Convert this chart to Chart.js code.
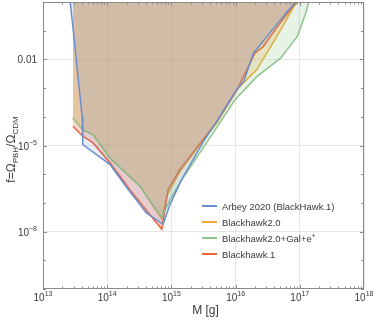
<!DOCTYPE html>
<html>
<head>
<meta charset="utf-8">
<script src="https://cdn.jsdelivr.net/npm/chart.js@4/dist/chart.umd.min.js"></script>
<style>
  html, body { margin: 0; padding: 0; background: #fff; }
</style>
</head>
<body>
<canvas id="c" width="374" height="328"></canvas>
<script>
// values (M in grams, f = Omega_PBH / Omega_CDM)
const names = ['Arbey 2020 (BlackHawk.1)', 'Blackhawk2.0', 'Blackhawk2.0+Gal+e', 'Blackhawk.1'];
const nameSup = ['', '', '+', ''];

const arbeyM = [2.66e13, 4.07e13, 4.17e13, 1.10e14, 2.0e14, 4.07e14, 7.41e14, 9.55e14, 1.45e15, 3.16e15, 5.13e15, 1.0e16, 1.34e16, 1.90e16, 4.95e16, 6.31e16, 8.71e16];
const arbeyF = [1, 1.02e-4, 1.07e-5, 2.2e-6, 3.5e-7, 4.5e-8, 1.8e-8, 8.9e-8, 6.6e-7, 1.4e-5, 7.1e-5, 7.9e-4, 1.7e-3, 1.66e-2, 0.234, 0.457, 1];

const bh2M = [2.92e13, 4.17e13, 6.03e13, 1.10e14, 3.24e14, 7.08e14, 8.51e14, 1.35e15, 2.51e15, 5.13e15, 1.10e16, 2.14e16, 4.37e16, 8.91e16];
const bh2F = [9.1e-5, 3.5e-5, 2.4e-5, 3.7e-6, 3.8e-7, 2.8e-8, 1.8e-7, 1.2e-6, 7.9e-6, 6.3e-5, 1.0e-3, 4.4e-3, 6.2e-2, 1];

const galM = [2.92e13, 4.17e13, 6.03e13, 1.10e14, 3.24e14, 7.08e14, 9.55e14, 1.35e15, 4.47e15, 9.77e15, 2.14e16, 5.01e16, 9.12e16, 1.23e17, 1.38e17];
const galF = [9.1e-5, 3.5e-5, 2.4e-5, 3.7e-6, 3.8e-7, 3.1e-8, 1.3e-7, 5.0e-7, 2.75e-5, 3.9e-4, 2.5e-3, 1.1e-2, 6.2e-2, 0.40, 1];

const bh1M = [2.92e13, 4.17e13, 6.03e13, 1.10e14, 1.58e14, 2.24e14, 4.57e14, 7.08e14, 8.91e14, 1.35e15, 2.34e15, 5.13e15, 1.05e16, 2.0e16, 2.69e16, 4.68e16, 8.51e16, 8.71e16];
const bh1F = [4.7e-5, 2.1e-5, 1.23e-5, 2.5e-6, 8.5e-7, 2.95e-7, 4.0e-8, 1.2e-8, 2.95e-7, 1.45e-6, 7.2e-6, 6.9e-5, 8.7e-4, 1.66e-2, 2.75e-2, 0.158, 0.89, 1];

const xTicks = [1e13, 1e14, 1e15, 1e16, 1e17, 1e18];
const xTickExp = ['13', '14', '15', '16', '17', '18'];
const yTicks = [1e-8, 1e-5, 1e-2];
const yTickBase = ['10', '10', '0.01'];
const yTickExp = ['\u22128', '\u22125', ''];

const lineColors = ['#6a8fcc', '#eeaa33', '#8dc48a', '#ee6038'];
const fillColors = ['rgba(106,143,204,0.15)', 'rgba(238,170,51,0.25)', 'rgba(141,196,138,0.2)', 'rgba(238,96,56,0.25)'];
// lower value is painted on top
const drawOrder = [0, 3, 1, 2];

const pts = (xs, ys) => xs.map((x, i) => ({ x, y: ys[i] }));
const series = [pts(arbeyM, arbeyF), pts(bh2M, bh2F), pts(galM, galF), pts(bh1M, bh1F)];

const FONT = '"Liberation Sans", Arial, sans-serif';
const TXT = '#3a3a3a';

// draws text made of parts, some raised or lowered and smaller
function scriptText(ctx, parts, x, y, align) {
  let w = 0;
  for (const p of parts) { ctx.font = p.size + 'px ' + FONT; w += ctx.measureText(p.t).width; }
  let cx = align === 'center' ? x - w / 2 : align === 'right' ? x - w : x;
  ctx.textAlign = 'left';
  for (const p of parts) {
    ctx.font = p.size + 'px ' + FONT;
    ctx.fillText(p.t, cx, y + (p.dy || 0));
    cx += ctx.measureText(p.t).width;
  }
}

const decor = {
  id: 'decor',
  afterDraw(chart) {
    const { ctx, chartArea: a, scales: { x, y } } = chart;
    ctx.save();
    ctx.strokeStyle = '#8a8a8a';
    ctx.lineWidth = 1;
    ctx.strokeRect(a.left + 0.5, a.top + 0.5, a.right - a.left - 1, a.bottom - a.top - 1);

    // inner tick marks
    ctx.beginPath();
    for (let n = 13; n < 18; n++) {
      for (let k = 1; k <= 9; k++) {
        const px = Math.round(x.getPixelForValue(k * Math.pow(10, n))) + 0.5;
        const len = k === 1 ? 4 : 2.5;
        ctx.moveTo(px, a.bottom); ctx.lineTo(px, a.bottom - len);
        ctx.moveTo(px, a.top); ctx.lineTo(px, a.top + len);
      }
    }
    for (let n = -10; n <= 0; n++) {
      const py = Math.round(y.getPixelForValue(Math.pow(10, n))) + 0.5;
      const len = (n === -8 || n === -5 || n === -2) ? 4 : 3;
      ctx.moveTo(a.left, py); ctx.lineTo(a.left + len, py);
      ctx.moveTo(a.right, py); ctx.lineTo(a.right - len, py);
    }
    ctx.stroke();

    ctx.fillStyle = TXT;
    ctx.textBaseline = 'alphabetic';
    xTicks.forEach((v, i) => {
      const px = x.getPixelForValue(v);
      scriptText(ctx, [{ t: '10', size: 10 }, { t: xTickExp[i], size: 7, dy: -5 }], px, a.bottom + 12, 'center');
    });
    yTicks.forEach((v, i) => {
      const py = y.getPixelForValue(v);
      const parts = [{ t: yTickBase[i], size: 10 }];
      if (yTickExp[i]) parts.push({ t: yTickExp[i], size: 7, dy: -5 });
      scriptText(ctx, parts, a.left - 6, py + 4, 'right');
    });

    // axis titles
    scriptText(ctx, [{ t: 'M [g]', size: 12 }], (a.left + a.right) / 2 + 2, a.bottom + 25, 'center');
    ctx.save();
    ctx.translate(15, (a.top + a.bottom) / 2 + 4);
    ctx.rotate(-Math.PI / 2);
    scriptText(ctx, [
      { t: 'f=\u03a9', size: 12 }, { t: 'PBH', size: 8, dy: 3 },
      { t: '/\u03a9', size: 12 }, { t: 'CDM', size: 8, dy: 3 }
    ], 0, 0, 'center');
    ctx.restore();

    // legend
    names.forEach((nm, i) => {
      const ly = 206 + i * 16;
      ctx.strokeStyle = lineColors[i];
      ctx.lineWidth = 2;
      ctx.beginPath(); ctx.moveTo(202, ly); ctx.lineTo(217, ly); ctx.stroke();
      ctx.fillStyle = TXT;
      const parts = [{ t: nm, size: 9.5 }];
      if (nameSup[i]) parts.push({ t: nameSup[i], size: 6.5, dy: -4 });
      scriptText(ctx, parts, 222, ly + 3.5, 'left');
    });
    ctx.restore();
  }
};

new Chart(document.getElementById('c'), {
  type: 'line',
  data: {
    datasets: series.map((d, i) => ({
      label: names[i],
      data: d,
      order: drawOrder[i],
      borderColor: lineColors[i],
      backgroundColor: fillColors[i],
      borderWidth: 1.5,
      pointRadius: 0,
      tension: 0,
      fill: 'end'
    }))
  },
  options: {
    responsive: false,
    animation: false,
    layout: { padding: { top: 2, right: 10, left: 0, bottom: 0 } },
    plugins: { legend: { display: false }, tooltip: { enabled: false } },
    scales: {
      x: {
        type: 'logarithmic', min: 1e13, max: 1e18,
        afterBuildTicks: s => { s.ticks = xTicks.map(v => ({ value: v })); },
        afterFit: s => { s.height = 39; },
        ticks: { display: false },
        grid: { color: '#e6e6e6', drawTicks: false },
        border: { display: false }
      },
      y: {
        type: 'logarithmic', min: 1e-10, max: 1,
        afterBuildTicks: s => { s.ticks = yTicks.map(v => ({ value: v })); },
        afterFit: s => { s.width = 43; },
        ticks: { display: false },
        grid: { color: '#e6e6e6', drawTicks: false },
        border: { display: false }
      }
    }
  },
  plugins: [decor]
});
</script>
</body>
</html>
